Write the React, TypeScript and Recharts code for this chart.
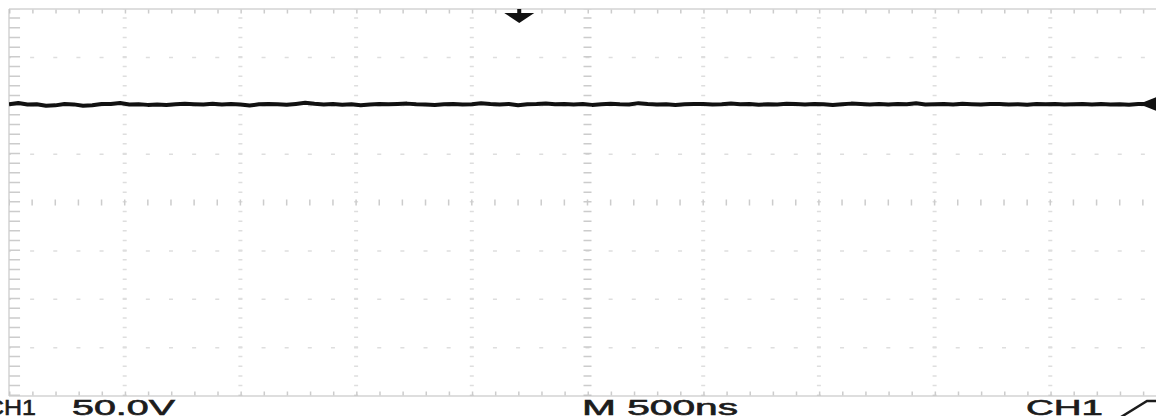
import React from "react";
import { LineChart, Line, XAxis, YAxis, ReferenceLine, ReferenceDot } from "recharts";

// Oscilloscope capture: CH1 50.0 V/div, M 500 ns/div, 10 x 8 divisions
const SAMPLE_NS = 40;
const ch1Volts = [
  101.6, 102.9, 101.2, 101.5, 100.1, 100.4, 101.8, 101.4, 99.9, 100.6,
  101.9, 101.7, 102.8, 101.3, 101.6, 100.9, 101.2, 100.7, 101.5, 102.0,
  101.6, 101.3, 102.1, 101.2, 101.8, 101.4, 100.2, 101.5, 101.8, 101.6,
  101.0, 101.9, 103.0, 102.0, 101.3, 101.7, 101.1, 101.6, 100.5, 101.4,
  101.8, 101.5, 101.9, 102.2, 101.6, 101.3, 100.8, 101.5, 101.7, 101.2,
  101.6, 102.6, 101.7, 101.4, 101.9, 100.6, 101.5, 101.8, 102.4, 101.6,
  101.9, 101.3, 101.7, 100.9, 101.5, 102.1, 101.6, 101.4, 102.7, 101.8,
  101.3, 101.6, 100.8, 101.5, 101.9, 101.7, 101.2, 101.6, 102.3, 101.5,
  101.8, 101.1, 101.6, 101.4, 102.0, 101.7, 101.3, 101.8, 101.5, 100.7,
  101.6, 102.2, 101.8, 101.4, 101.7, 101.2, 101.9, 101.6, 102.5, 101.3,
  101.5, 101.8, 101.4, 102.0, 101.6, 101.2, 101.7, 101.9, 101.4, 101.6,
  101.1, 101.7, 101.5, 101.9, 101.3, 101.6, 101.8, 101.4, 101.7, 101.2,
  101.5, 101.0, 101.9, 101.7,
];
const timeGridNs = [500, 1000, 1500, 2000, 3000, 3500, 4000, 4500];
const voltGrid = [-150, -100, -50, 50, 100, 150];
const X_DOMAIN: [number, number] = [0, 5000];
const Y_DOMAIN: [number, number] = [-200, 200];
const triggerTimeNs = 2205;
const triggerLevelV = 101.8;
const triggerMarkerNs = 4883;
const labels = { chan: "CH1", scale: "50.0V", time: "M 500ns", trig: "CH1" };

const data = ch1Volts.map((v, i) => ({ t: i * SAMPLE_NS, v }));

const GRID = "#dedede";
const EDGE = "#bdbdbd";
const TICK = "#cccccc";

const TriggerArrow = (props: any) => {
  const { cx, cy } = props;
  return (
    <g fill="#111">
      <rect x={cx - 2} y={cy} width={4} height={7} />
      <path d={`M${cx - 15},${cy + 4} L${cx + 15},${cy + 4} L${cx},${cy + 14} Z`} />
    </g>
  );
};

const LevelMarker = (props: any) => {
  const { cx, cy } = props;
  return <path d={`M${cx},${cy} L${cx + 20},${cy - 8} L${cx + 20},${cy + 8} Z`} fill="#111" />;
};

export default function App() {
  return (
    <div style={{ position: "absolute", left: 0, top: 0, width: 1156, height: 416, overflow: "hidden", background: "#fff" }}>
      <LineChart width={1170} height={416} data={data} margin={{ top: 9, right: 4, bottom: 20, left: 9 }}>
        <XAxis dataKey="t" type="number" domain={X_DOMAIN} hide allowDataOverflow />
        <YAxis type="number" domain={Y_DOMAIN} hide allowDataOverflow />
        {timeGridNs.map((t) => (
          <ReferenceLine key={"vx" + t} x={t} stroke={GRID} strokeWidth={4} strokeDasharray="1.5 8.17" ifOverflow="visible" />
        ))}
        {voltGrid.map((v) => (
          <ReferenceLine key={"hy" + v} y={v} stroke={GRID} strokeWidth={1.5} strokeDasharray="4 19.14" strokeDashoffset={2} ifOverflow="visible" />
        ))}
        {/* centre cross with minor ticks */}
        <ReferenceLine x={2500} stroke={TICK} strokeWidth={8} strokeDasharray="1.5 8.17" ifOverflow="visible" />
        <ReferenceLine y={0} stroke={TICK} strokeWidth={6} strokeDasharray="1.5 21.64" strokeDashoffset={0.75} ifOverflow="visible" />
        {/* frame */}
        <ReferenceLine y={200} stroke={EDGE} strokeWidth={1} ifOverflow="visible" />
        <ReferenceLine y={-200} stroke={EDGE} strokeWidth={1} ifOverflow="visible" />
        <ReferenceLine y={197.5} stroke={TICK} strokeWidth={4} strokeDasharray="1.5 21.64" ifOverflow="visible" />
        <ReferenceLine y={-197.5} stroke={TICK} strokeWidth={4} strokeDasharray="1.5 21.64" ifOverflow="visible" />
        <ReferenceLine x={0} stroke={EDGE} strokeWidth={1} ifOverflow="visible" />
        <ReferenceLine x={24} stroke={TICK} strokeWidth={11} strokeDasharray="1.5 8.17" ifOverflow="visible" />
        <Line dataKey="v" type="linear" stroke="#111" strokeWidth={4} strokeLinejoin="round" dot={false} isAnimationActive={false} />
        <ReferenceDot x={triggerTimeNs} y={200} shape={TriggerArrow} ifOverflow="visible" />
        <ReferenceDot x={triggerMarkerNs} y={triggerLevelV} shape={LevelMarker} ifOverflow="visible" />
      </LineChart>
      <svg width={1156} height={416} style={{ position: "absolute", left: 0, top: 0, pointerEvents: "none" }}>
        <g fontFamily="'Liberation Sans', Arial, sans-serif" fontSize={22} fill="#1c1c1c" stroke="#1c1c1c" strokeWidth={0.6}>
          <text x={-14} y={415} textLength={50} lengthAdjust="spacingAndGlyphs">{labels.chan}</text>
          <text x={72} y={415} textLength={103} lengthAdjust="spacingAndGlyphs">{labels.scale}</text>
          <text x={582} y={415} textLength={156} lengthAdjust="spacingAndGlyphs">{labels.time}</text>
          <text x={1026} y={415} textLength={77} lengthAdjust="spacingAndGlyphs">{labels.trig}</text>
        </g>
        <polyline points="1121,417 1147,401 1158,401" fill="none" stroke="#1c1c1c" strokeWidth={2.5} />
      </svg>
    </div>
  );
}
